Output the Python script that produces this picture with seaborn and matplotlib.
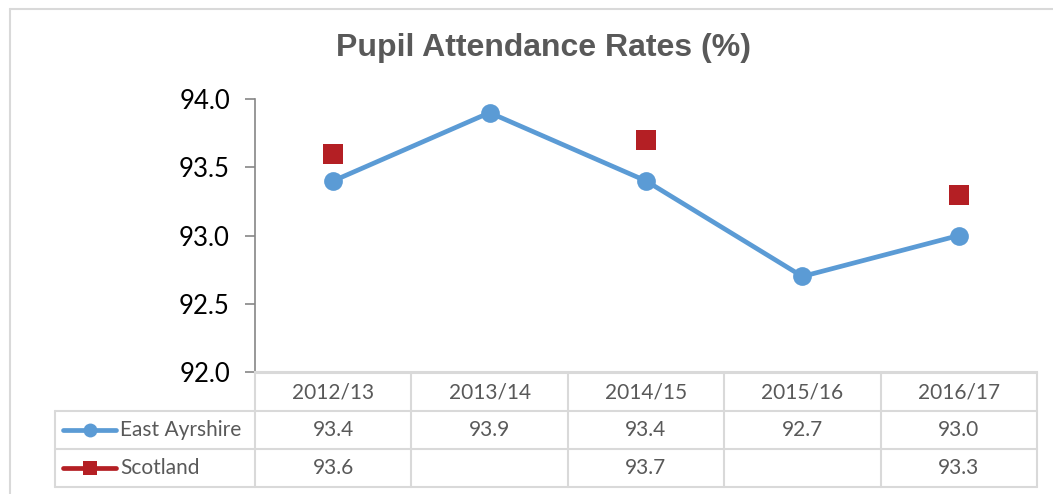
import seaborn as sns
import numpy as np
import pandas as pd
import matplotlib.pyplot as plt
from matplotlib.lines import Line2D

# data
years = ['2012/13', '2013/14', '2014/15', '2015/16', '2016/17']
east_ayrshire = [93.4, 93.9, 93.4, 92.7, 93.0]
scotland = [93.6, np.nan, 93.7, np.nan, 93.3]
series_names = ['East Ayrshire', 'Scotland']

blue = '#5B9BD5'
red = '#B41F24'
grid = '#D9D9D9'
textgrey = '#595959'

W, H = 1053, 494


def fx(px):
    return px / W


def fy(py):
    return 1 - py / H


sns.set_theme(style='white')
plt.rcParams['font.family'] = ['Lato', 'DejaVu Sans']

df = pd.DataFrame({'year': years, 'ea': east_ayrshire, 'sc': scotland})

fig = plt.figure(figsize=(W / 100, H / 100), dpi=100)
ax = fig.add_axes([fx(255), fy(372), fx(1037) - fx(255), fy(99) - fy(372)])

sns.lineplot(data=df, x='year', y='ea', ax=ax, color=blue, lw=3.4,
             marker='o', markersize=13.5, markeredgewidth=0, sort=False)
sns.scatterplot(data=df.dropna(), x='year', y='sc', ax=ax, color=red,
                marker='s', s=14 ** 2, linewidth=0, zorder=3)

ax.set_xlim(-0.5, 4.5)
ax.set_ylim(92, 94)
ax.set_yticks(np.arange(92, 94.01, 0.5))
ax.set_yticklabels(['%.1f' % v for v in np.arange(92, 94.01, 0.5)])
ax.set_xticks([])
ax.set_xlabel('')
ax.set_ylabel('')
ax.tick_params(axis='y', length=7, width=1.2, color='#868686', pad=11,
               labelsize=18.5, labelcolor='black', left=True)
for s in ['top', 'right']:
    ax.spines[s].set_visible(False)
ax.spines['left'].set_color('#868686')
ax.spines['left'].set_linewidth(1.2)
ax.spines['bottom'].set_color(grid)
ax.spines['bottom'].set_linewidth(1.5)
ax.patch.set_alpha(0)

# title
fig.text(fx(543), fy(48), 'Pupil Attendance Rates (%)', ha='center', va='center',
         fontsize=23, fontweight='bold', color=textgrey, family='Liberation Sans')

# outer chart border
fig.add_artist(Line2D([fx(10), fx(1053)], [fy(9), fy(9)], color=grid, lw=1.5))
fig.add_artist(Line2D([fx(10), fx(10)], [fy(9), fy(494)], color=grid, lw=1.5))

# data table
col_x = [255 + i * 156.4 for i in range(len(years) + 1)]
row_y = [373, 411, 449, 487]


def hline(x0, x1, y):
    fig.add_artist(Line2D([fx(x0), fx(x1)], [fy(y), fy(y)], color=grid, lw=1.5))


def vline(x, y0, y1):
    fig.add_artist(Line2D([fx(x), fx(x)], [fy(y0), fy(y1)], color=grid, lw=1.5))


hline(255, col_x[-1], row_y[0])
for y in row_y[1:]:
    hline(55, col_x[-1], y)
for x in col_x:
    vline(x, row_y[0], row_y[-1])
vline(55, row_y[1], row_y[-1])

for i, yr in enumerate(years):
    cx = (col_x[i] + col_x[i + 1]) / 2
    fig.text(fx(cx), fy((row_y[0] + row_y[1]) / 2), yr, ha='center', va='center',
             fontsize=15, color=textgrey)
    for r, vals in enumerate([east_ayrshire, scotland]):
        v = vals[i]
        if not np.isnan(v):
            fig.text(fx(cx), fy((row_y[r + 1] + row_y[r + 2]) / 2), '%.1f' % v,
                     ha='center', va='center', fontsize=15, color=textgrey)

# legend keys inside the table
styles = [(blue, 'o', 10), (red, 's', 10)]
for r, (name, (c, m, ms)) in enumerate(zip(series_names, styles)):
    yc = fy((row_y[r + 1] + row_y[r + 2]) / 2)
    fig.add_artist(Line2D([fx(63), fx(116)], [yc, yc], color=c, lw=3.4,
                          solid_capstyle='round'))
    fig.add_artist(Line2D([fx(89.5)], [yc], color=c, marker=m, markersize=ms,
                          markeredgewidth=0))
    fig.text(fx(120), yc, name, ha='left', va='center', fontsize=15, color=textgrey)

fig.savefig('out.png', dpi=100)
